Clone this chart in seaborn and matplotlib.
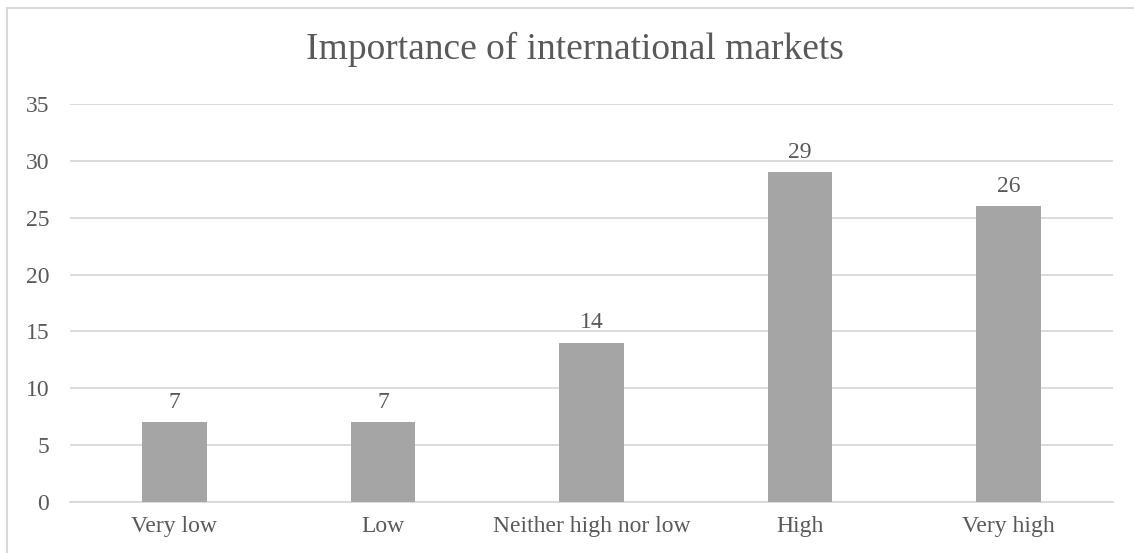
import matplotlib
matplotlib.use("Agg")
import matplotlib.pyplot as plt
import seaborn as sns
import pandas as pd
from matplotlib.patches import Rectangle

categories = ["Very low", "Low", "Neither high nor low", "High", "Very high"]
counts = [7, 7, 14, 29, 26]
y_ticks = [0, 5, 10, 15, 20, 25, 30, 35]
title = "Importance of international markets"

text_color = "#595959"
bar_color = "#A5A5A5"
grid_color = "#D9D9D9"

sns.set_theme(style="white")
plt.rcParams["font.family"] = ["Liberation Serif", "DejaVu Serif"]

df = pd.DataFrame({"category": categories, "count": counts})

fig = plt.figure(figsize=(11.34, 5.53), dpi=100)
ax = fig.add_axes([70 / 1134, 1 - 502 / 553, (1113 - 70) / 1134, (502 - 104) / 553])

sns.barplot(data=df, x="category", y="count", color=bar_color, width=0.31,
            saturation=1, ax=ax, zorder=3, edgecolor="none")

ax.set_ylim(0, 35)
ax.set_yticks(y_ticks)
ax.set_xlim(-0.5, len(categories) - 0.5)
ax.yaxis.grid(True, color=grid_color, linewidth=1.3, zorder=0)
ax.xaxis.grid(False)
for side in ["left", "right", "top"]:
    ax.spines[side].set_visible(False)
ax.spines["bottom"].set_color(grid_color)
ax.spines["bottom"].set_linewidth(1.3)
ax.set_xlabel("")
ax.set_ylabel("")
ax.tick_params(axis="both", length=0, labelsize=17, colors=text_color)
ax.tick_params(axis="y", pad=15)
ax.tick_params(axis="x", pad=10)

for container in ax.containers:
    ax.bar_label(container, labels=[str(v) for v in counts], padding=7,
                 fontsize=17, color=text_color)

fig.text(575 / 1134, 1 - 49 / 553, title, ha="center", va="center",
         fontsize=27, color=text_color)

# chart area frame
fig.patches.append(Rectangle((7 / 1134, -0.1), 1.2, 1.1 - 8 / 553,
                             transform=fig.transFigure, fill=False,
                             edgecolor=grid_color, linewidth=1.5))

fig.savefig("out.png", dpi=100, facecolor="white")
